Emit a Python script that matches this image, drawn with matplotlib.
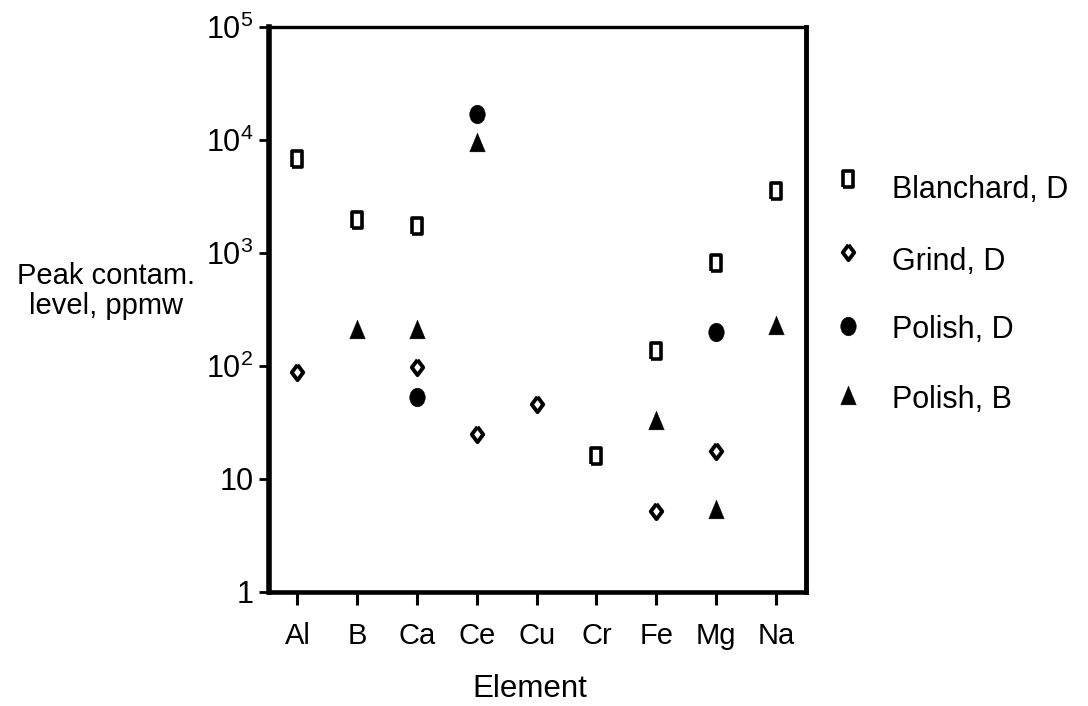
import numpy as np
import matplotlib
matplotlib.use("Agg")
import matplotlib.pyplot as plt
from matplotlib.path import Path
from matplotlib.transforms import Affine2D
from matplotlib.lines import Line2D

plt.rcParams['font.family'] = ['Liberation Sans', 'DejaVu Sans']
plt.rcParams['mathtext.fontset'] = 'custom'
plt.rcParams['mathtext.rm'] = 'Liberation Sans'
plt.rcParams['mathtext.it'] = 'Liberation Sans'
plt.rcParams['mathtext.default'] = 'regular'

# ---- data ----
elements = ['Al', 'B', 'Ca', 'Ce', 'Cu', 'Cr', 'Fe', 'Mg', 'Na']

blanchard_elems = ['Al', 'B', 'Ca', 'Cr', 'Fe', 'Mg', 'Na']
blanchard_vals = [6800, 1960, 1730, 16.0, 136, 816, 3540]

grind_elems = ['Al', 'Ca', 'Ce', 'Cu', 'Fe', 'Mg']
grind_vals = [88.5, 98, 25, 46, 5.2, 17.7]

polishD_elems = ['Ca', 'Ce', 'Mg']
polishD_vals = [53, 17000, 200]

polishB_elems = ['B', 'Ca', 'Ce', 'Fe', 'Mg', 'Na']
polishB_vals = [212, 212, 9600, 33, 5.4, 231]

ytick_vals = [1, 10, 100, 1e3, 1e4, 1e5]
ytick_labels = ['1', '10', '10$^2$', '10$^3$', '10$^4$', '10$^5$']

series_labels = ['Blanchard, D', 'Grind, D', 'Polish, D', 'Polish, B']

# ---- marker shapes ----
rect_marker = [(-0.67, -1), (0.67, -1), (0.67, 1), (-0.67, 1), (-0.67, -1)]
diam_marker = [(0, 1), (0.75, 0), (0, -1), (-0.75, 0), (0, 1)]
ell_marker = Path.unit_circle().transformed(Affine2D().scale(0.83, 1.0))
tri_marker = [(0, 1), (-0.83, -1), (0.83, -1), (0, 1)]

styles = [
    dict(marker=rect_marker, markersize=11, markerfacecolor='white',
         markeredgecolor='black', markeredgewidth=2.6),
    dict(marker=diam_marker, markersize=11, markerfacecolor='white',
         markeredgecolor='black', markeredgewidth=2.8),
    dict(marker=ell_marker, markersize=13.5, markerfacecolor='black',
         markeredgecolor='black', markeredgewidth=0.3),
    dict(marker=tri_marker, markersize=13.5, markerfacecolor='black',
         markeredgecolor='black', markeredgewidth=0.3),
]

fig = plt.figure(figsize=(10.88, 7.06), dpi=100)
ax = fig.add_axes([268.8 / 1088, 1 - 591.7 / 706,
                   (805.7 - 268.8) / 1088, (591.7 - 26.7) / 706])

idx = {e: i for i, e in enumerate(elements)}
data = [(blanchard_elems, blanchard_vals), (grind_elems, grind_vals),
        (polishD_elems, polishD_vals), (polishB_elems, polishB_vals)]
for (els, vals), st in zip(data, styles):
    ax.plot([idx[e] for e in els], vals, linestyle='none', clip_on=False,
            zorder=3, **st)

ax.set_yscale('log')
ax.set_ylim(1, 1e5)
ax.set_xlim(-0.48, 8.5)
ax.set_yticks(ytick_vals)
ax.set_yticklabels(ytick_labels)
ax.yaxis.set_minor_locator(matplotlib.ticker.NullLocator())
ax.set_xticks(range(len(elements)))
ax.set_xticklabels(elements)

ax.tick_params(axis='y', direction='out', length=7, width=2, labelsize=22, pad=4)
ax.tick_params(axis='x', direction='out', length=9, width=2.2, labelsize=21, pad=13)

ax.spines['left'].set_linewidth(4.0)
ax.spines['bottom'].set_linewidth(3.3)
ax.spines['right'].set_linewidth(3.5)
ax.spines['top'].set_linewidth(2.4)

ax.set_xlabel('Element', fontsize=22.5, labelpad=18)
ax.xaxis.set_label_coords((530 - 268.8) / (805.7 - 268.8), -0.1)
ax.xaxis.label.set_va('center')
ax.xaxis.set_label_coords((530 - 268.8) / (805.7 - 268.8), (591.7 - 689) / (591.7 - 26.7))

fig.text(106 / 1088, 1 - 291 / 706, 'Peak contam.\nlevel, ppmw', fontsize=21,
         ha='center', va='center', multialignment='center', linespacing=1.12)

# ---- legend (manual) ----
marker_y = [179, 252, 326, 395]
text_y = [187, 258, 326, 397]
for st, my, ty, lab in zip(styles, marker_y, text_y, series_labels):
    fig.add_artist(Line2D([848 / 1088], [1 - my / 706], linestyle='none',
                          transform=fig.transFigure, **st))
    fig.text(892 / 1088, 1 - ty / 706, lab, fontsize=22, ha='left',
             va='center_baseline')

fig.savefig('out.png', dpi=100)
